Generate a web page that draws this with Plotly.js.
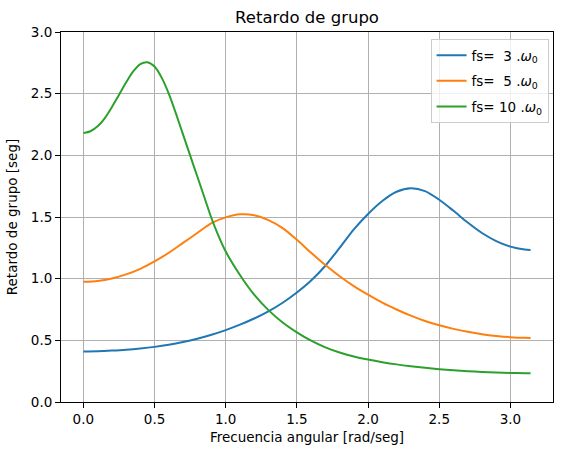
<!DOCTYPE html>
<html>
<head>
<meta charset="utf-8">
<script src="https://cdn.plot.ly/plotly-3.0.1.min.js"></script>
<style>html,body{margin:0;padding:0;background:#fff;}#chart{width:567px;height:455px;}</style>
</head>
<body>
<div id="chart"></div>
<script>
const freqA = [0, 0.1, 0.2, 0.3, 0.4, 0.5, 0.6, 0.7, 0.8, 0.9, 1.0, 1.1, 1.2, 1.3, 1.4, 1.5, 1.6, 1.7, 1.8, 1.9, 2.0, 2.1, 2.2, 2.3, 2.4, 2.5, 2.6, 2.7, 2.8, 2.9, 3.0, 3.1, 3.14159];
const delayFs3 = [0.41, 0.412, 0.417, 0.424, 0.434, 0.447, 0.464, 0.486, 0.513, 0.545, 0.583, 0.627, 0.677, 0.735, 0.805, 0.888, 0.985, 1.105, 1.25, 1.40, 1.525, 1.63, 1.705, 1.733, 1.71, 1.64, 1.55, 1.455, 1.37, 1.305, 1.26, 1.236, 1.232];
const delayFs5 = [0.975, 0.982, 1.002, 1.035, 1.08, 1.14, 1.21, 1.29, 1.37, 1.45, 1.497, 1.522, 1.515, 1.475, 1.41, 1.315, 1.21, 1.11, 1.02, 0.94, 0.87, 0.805, 0.75, 0.70, 0.657, 0.622, 0.593, 0.569, 0.55, 0.536, 0.526, 0.52, 0.519];
const freqB = [0, 0.05, 0.1, 0.15, 0.2, 0.25, 0.3, 0.35, 0.4, 0.45, 0.5, 0.55, 0.6, 0.65, 0.7, 0.75, 0.8, 0.85, 0.9, 0.95, 1.0, 1.1, 1.2, 1.3, 1.4, 1.5, 1.6, 1.7, 1.8, 1.9, 2.0, 2.1, 2.2, 2.3, 2.4, 2.5, 2.6, 2.7, 2.8, 2.9, 3.0, 3.1, 3.14159];
const delayFs10 = [2.18, 2.195, 2.235, 2.30, 2.39, 2.49, 2.59, 2.68, 2.74, 2.755, 2.72, 2.63, 2.50, 2.34, 2.17, 2.00, 1.83, 1.66, 1.49, 1.345, 1.22, 1.03, 0.87, 0.745, 0.645, 0.565, 0.497, 0.443, 0.401, 0.369, 0.344, 0.323, 0.305, 0.29, 0.277, 0.266, 0.257, 0.25, 0.244, 0.239, 0.236, 0.234, 0.234];
const seriesNames = ["fs=\u00a0\u00a03 .<i>ω</i><sub>0</sub>", "fs=\u00a0\u00a05 .<i>ω</i><sub>0</sub>", "fs=\u00a010 .<i>ω</i><sub>0</sub>"];
const seriesColors = ["#1f77b4", "#ff7f0e", "#2ca02c"];
const yTicks = [0, 0.5, 1.0, 1.5, 2.0, 2.5, 3.0];
const xTicks = [0, 0.5, 1.0, 1.5, 2.0, 2.5, 3.0];

const allX = [freqA, freqA, freqB];
const allSeries = [delayFs3, delayFs5, delayFs10];
const traces = allSeries.map((ys, i) => ({
  x: allX[i], y: ys, type: 'scatter', mode: 'lines',
  name: seriesNames[i], legendgroup: 'g' + i,
  line: {color: seriesColors[i], width: 2, shape: 'spline', smoothing: 0.8}
}));

const axisCommon = {
  showline: true, mirror: true, linecolor: '#000', linewidth: 1,
  ticks: 'outside', ticklen: 5, tickwidth: 1, tickcolor: '#000',
  showgrid: true, gridcolor: '#b0b0b0', gridwidth: 1, zeroline: false,
  tickfont: {size: 13.5, color: '#000'}, tickformat: '.1f'
};

const layout = {
  width: 567, height: 455,
  margin: {l: 61, r: 14, t: 32, b: 53},
  paper_bgcolor: '#fff', plot_bgcolor: '#fff',
  font: {family: 'DejaVu Sans', color: '#000', size: 13.5},
  title: {text: 'Retardo de grupo', font: {size: 16.5, color: '#000'}, x: 0.5, xref: 'paper', y: 0.963, yanchor: 'middle'},
  xaxis: Object.assign({}, axisCommon, {
    range: [-0.157, 3.299], tickvals: xTicks,
    title: {text: 'Frecuencia angular [rad/seg]', font: {size: 13.5}, standoff: 6}
  }),
  yaxis: Object.assign({}, axisCommon, {
    range: [0, 3], tickvals: yTicks,
    title: {text: 'Retardo de grupo [seg]', font: {size: 13.5}, standoff: 10}
  }),
  showlegend: true,
  legend: {
    x: 0.991, y: 0.981, xanchor: 'right', yanchor: 'top',
    bgcolor: 'rgba(255,255,255,0.8)', bordercolor: '#cccccc', borderwidth: 1,
    font: {size: 13.5, color: '#000'}, tracegroupgap: 5, itemwidth: 30
  }
};

Plotly.newPlot('chart', traces, layout, {displayModeBar: false, staticPlot: true});
</script>
</body>
</html>
